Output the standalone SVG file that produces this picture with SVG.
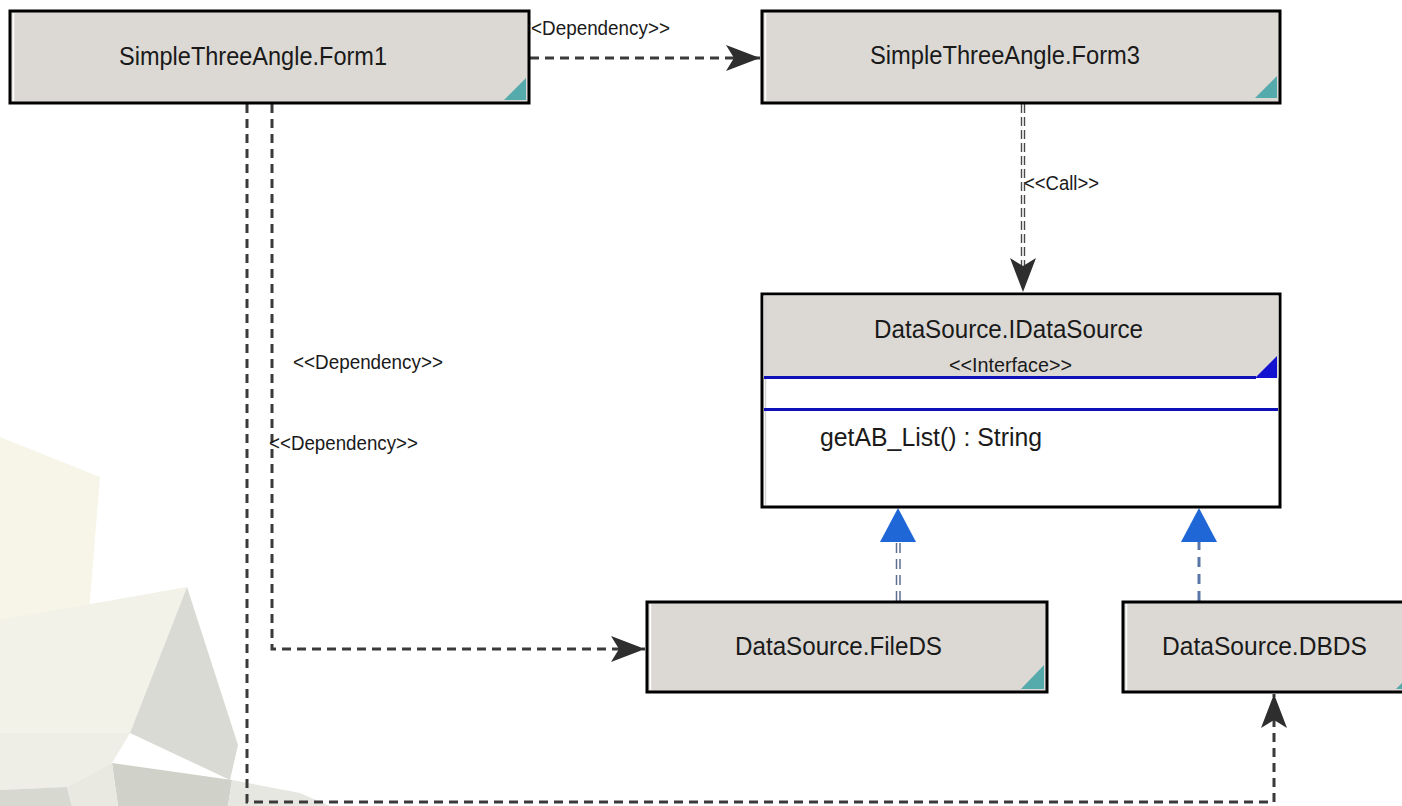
<svg xmlns="http://www.w3.org/2000/svg" width="1402" height="806" viewBox="0 0 1402 806">
<style>
.box{fill:#dcd9d5;stroke:#000;stroke-width:3}
.body{fill:#fff;stroke:#000;stroke-width:3}
.bevel{stroke:#fff;stroke-width:1.5}
.teal{fill:#55aaab}
.t{font-family:"Liberation Sans",Arial,sans-serif;font-size:26px;fill:#1a1a1a}
.lbl{font-family:"Liberation Sans",Arial,sans-serif;font-size:20.5px;fill:#1a1a1a}
.dep{fill:none;stroke:#3a3a3a;stroke-width:3;stroke-dasharray:9 6}
.call{fill:none;stroke:#4a4a4a;stroke-width:1.4;stroke-dasharray:9 4}
.realf{fill:none;stroke:#5d6d90;stroke-width:1.5;stroke-dasharray:10 6}
.reald{fill:none;stroke:#5a76a8;stroke-width:3;stroke-dasharray:10 7}
.blue{stroke:#1010b8;stroke-width:3}
</style>
<defs>
<marker id="dep" markerUnits="userSpaceOnUse" viewBox="0 0 36 26" markerWidth="36" markerHeight="26" refX="34" refY="13" orient="auto">
<path d="M34,13 L0,0 L8,13 L0,26 Z" fill="#2e2e2e"/>
</marker>
<marker id="real" markerUnits="userSpaceOnUse" viewBox="0 0 34 36" markerWidth="34" markerHeight="36" refX="0" refY="18" orient="auto">
<path d="M0,0 L34,18 L0,36 Z" fill="#1f66d6"/>
</marker>
</defs>
<rect width="1402" height="806" fill="#fff"/>
<g id="background">
<polygon points="0,437 100,477 82,697 0,690" fill="#f6f5e8"/>
<polygon points="0,673 67,697 0,697" fill="#e0e0d5"/>
<polygon points="0,620 187,587 130,733 0,733" fill="#f2f2e8"/>
<polygon points="187,587 238,745 230,780 130,733" fill="#d9dad3"/>
<polygon points="0,733 130,733 112,763 67,787 0,790" fill="#eeeee6"/>
<polygon points="112,763 232,780 228,806 118,806" fill="#d0d1c9"/>
<polygon points="232,780 300,793 330,806 228,806" fill="#e7e7e1"/>
<polygon points="0,790 67,787 72,806 0,806" fill="#d7d8d0"/>
<polygon points="67,787 112,763 118,806 72,806" fill="#e9e9e1"/>
</g>
<g id="connectors">
<path class="dep" d="M530,58 H760" marker-end="url(#dep)"/>
<text class="lbl" x="520" y="35" textLength="150" lengthAdjust="spacingAndGlyphs">&lt;&lt;Dependency&gt;&gt;</text>
<path class="call" d="M1021.5,104 V280"/>
<path class="call" d="M1024.5,104 V280"/>
<path d="M1023,270 V292" stroke="none" fill="none" marker-end="url(#dep)"/>
<text class="lbl" x="1024" y="190" textLength="75" lengthAdjust="spacingAndGlyphs">&lt;&lt;Call&gt;&gt;</text>
<path class="dep" d="M272,104 V649 H645" marker-end="url(#dep)"/>
<text class="lbl" x="293" y="369" textLength="150" lengthAdjust="spacingAndGlyphs">&lt;&lt;Dependency&gt;&gt;</text>
<path class="dep" d="M247,104 V802 H1274 V694" marker-end="url(#dep)"/>
<text class="lbl" x="269" y="450" textLength="149" lengthAdjust="spacingAndGlyphs">&lt;&lt;Dependency&gt;&gt;</text>
<path class="realf" d="M896.5,601 V542"/>
<path class="realf" d="M900,601 V542"/>
<path d="M898,560 V542" stroke="none" fill="none" marker-end="url(#real)"/>
<path class="reald" d="M1199,601 V542" marker-end="url(#real)"/>
</g>
<g id="form1">
<rect class="box" x="10" y="11" width="519" height="92"/>
<line class="bevel" x1="13.5" y1="13" x2="13.5" y2="101"/>
<polygon class="teal" points="526,78 504,100 526,100"/>
<text class="t" x="119" y="65" textLength="268" lengthAdjust="spacingAndGlyphs">SimpleThreeAngle.Form1</text>
</g>
<g id="form3">
<rect class="box" x="762" y="11" width="518" height="92"/>
<line class="bevel" x1="765.5" y1="13" x2="765.5" y2="101"/>
<polygon class="teal" points="1277,76 1255,98 1277,98"/>
<text class="t" x="870" y="64" textLength="270" lengthAdjust="spacingAndGlyphs">SimpleThreeAngle.Form3</text>
</g>
<g id="idatasource">
<rect class="body" x="762" y="294" width="518" height="213"/>
<rect x="763.5" y="295.5" width="515" height="82" fill="#dcd9d5"/>
<line x1="765.5" y1="297" x2="765.5" y2="505" stroke="#d4d4d4" stroke-width="1.5"/>
<text class="t" x="874" y="338" textLength="269" lengthAdjust="spacingAndGlyphs">DataSource.IDataSource</text>
<text class="lbl" x="949" y="372" textLength="123" lengthAdjust="spacingAndGlyphs">&lt;&lt;Interface&gt;&gt;</text>
<line class="blue" x1="764" y1="377.5" x2="1256" y2="377.5"/>
<polygon points="1277,356 1255,378 1277,378" fill="#1212d0"/>
<line class="blue" x1="764" y1="409.5" x2="1278" y2="409.5"/>
<text class="t" x="820" y="446" textLength="222" lengthAdjust="spacingAndGlyphs">getAB_List() : String</text>
</g>
<g id="fileds">
<rect class="box" x="647" y="602" width="400" height="90"/>
<line class="bevel" x1="650.5" y1="604" x2="650.5" y2="690"/>
<polygon class="teal" points="1044,665 1021,689 1044,689"/>
<text class="t" x="735" y="655" textLength="207" lengthAdjust="spacingAndGlyphs">DataSource.FileDS</text>
</g>
<g id="dbds">
<rect class="box" x="1123" y="602" width="300" height="90"/>
<line class="bevel" x1="1126.5" y1="604" x2="1126.5" y2="690"/>
<polygon class="teal" points="1420,665 1396,689 1420,689"/>
<text class="t" x="1162" y="655" textLength="205" lengthAdjust="spacingAndGlyphs">DataSource.DBDS</text>
</g>
</svg>
